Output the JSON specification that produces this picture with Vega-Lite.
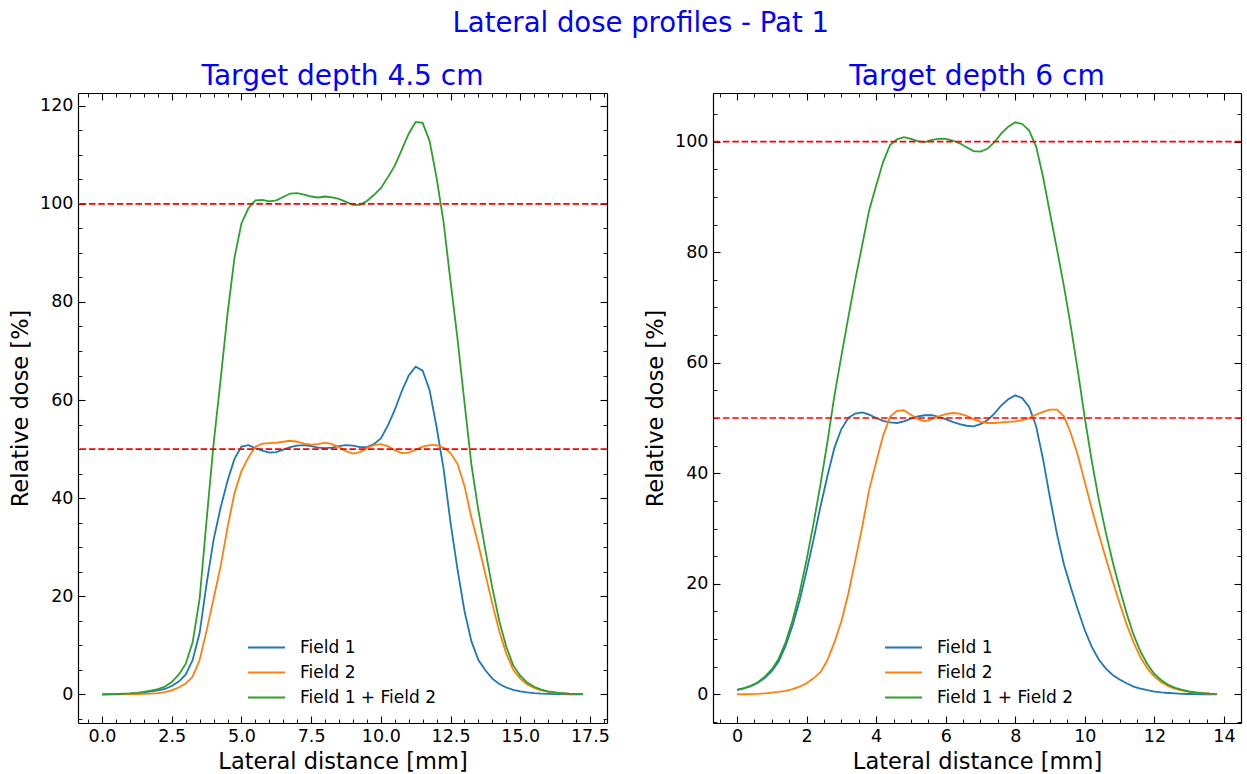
{
  "$schema": "https://vega.github.io/schema/vega-lite/v6.json",
  "background": "white",
  "padding": {"left": 9, "right": 4, "top": 9, "bottom": 4},
  "config": {
    "font": "DejaVu Sans",
    "view": {"stroke": null},
    "axis": {
      "grid": false,
      "domainColor": "#000000",
      "domainWidth": 1.2,
      "tickColor": "#000000",
      "tickWidth": 1.1,
      "labelColor": "#000000",
      "labelFont": "DejaVu Sans",
      "labelFontSize": 17.5,
      "labelFlush": false,
      "labelOverlap": false,
      "titleColor": "#000000",
      "titleFont": "DejaVu Sans",
      "titleFontSize": 22.5,
      "titleFontWeight": "normal",
      "zindex": 1
    }
  },
  "title": {
    "text": "Lateral dose profiles - Pat 1",
    "color": "#0000ff",
    "font": "DejaVu Sans",
    "fontSize": 27.5,
    "fontWeight": "normal",
    "anchor": "middle",
    "baseline": "alphabetic",
    "offset": 4,
    "dx": 15
  },
  "datasets": {
    "depth45": [
      {"x":0.00,"series":"Field 1","dose":0.0},{"x":0.25,"series":"Field 1","dose":0.02},{"x":0.50,"series":"Field 1","dose":0.05},{"x":0.75,"series":"Field 1","dose":0.1},{"x":1.00,"series":"Field 1","dose":0.15},{"x":1.25,"series":"Field 1","dose":0.25},{"x":1.50,"series":"Field 1","dose":0.4},{"x":1.75,"series":"Field 1","dose":0.6},{"x":2.00,"series":"Field 1","dose":0.8},{"x":2.25,"series":"Field 1","dose":1.1},{"x":2.50,"series":"Field 1","dose":1.7},{"x":2.75,"series":"Field 1","dose":2.6},{"x":3.00,"series":"Field 1","dose":4.0},{"x":3.25,"series":"Field 1","dose":7.0},{"x":3.50,"series":"Field 1","dose":12.5},{"x":3.75,"series":"Field 1","dose":22.5},{"x":4.00,"series":"Field 1","dose":31.5},{"x":4.25,"series":"Field 1","dose":38.0},{"x":4.50,"series":"Field 1","dose":43.5},{"x":4.75,"series":"Field 1","dose":48.0},{"x":5.00,"series":"Field 1","dose":50.5},{"x":5.25,"series":"Field 1","dose":50.8},{"x":5.50,"series":"Field 1","dose":50.2},{"x":5.75,"series":"Field 1","dose":49.7},{"x":6.00,"series":"Field 1","dose":49.3},{"x":6.25,"series":"Field 1","dose":49.4},{"x":6.50,"series":"Field 1","dose":49.9},{"x":6.75,"series":"Field 1","dose":50.4},{"x":7.00,"series":"Field 1","dose":50.7},{"x":7.25,"series":"Field 1","dose":50.8},{"x":7.50,"series":"Field 1","dose":50.6},{"x":7.75,"series":"Field 1","dose":50.3},{"x":8.00,"series":"Field 1","dose":50.2},{"x":8.25,"series":"Field 1","dose":50.3},{"x":8.50,"series":"Field 1","dose":50.6},{"x":8.75,"series":"Field 1","dose":50.8},{"x":9.00,"series":"Field 1","dose":50.7},{"x":9.25,"series":"Field 1","dose":50.4},{"x":9.50,"series":"Field 1","dose":50.4},{"x":9.75,"series":"Field 1","dose":51.0},{"x":10.00,"series":"Field 1","dose":52.2},{"x":10.25,"series":"Field 1","dose":54.8},{"x":10.50,"series":"Field 1","dose":58.0},{"x":10.75,"series":"Field 1","dose":61.8},{"x":11.00,"series":"Field 1","dose":65.0},{"x":11.25,"series":"Field 1","dose":66.8},{"x":11.50,"series":"Field 1","dose":66.0},{"x":11.75,"series":"Field 1","dose":62.0},{"x":12.00,"series":"Field 1","dose":54.5},{"x":12.25,"series":"Field 1","dose":46.0},{"x":12.50,"series":"Field 1","dose":35.0},{"x":12.75,"series":"Field 1","dose":25.5},{"x":13.00,"series":"Field 1","dose":17.0},{"x":13.25,"series":"Field 1","dose":10.8},{"x":13.50,"series":"Field 1","dose":7.0},{"x":13.75,"series":"Field 1","dose":4.9},{"x":14.00,"series":"Field 1","dose":3.2},{"x":14.25,"series":"Field 1","dose":2.1},{"x":14.50,"series":"Field 1","dose":1.4},{"x":14.75,"series":"Field 1","dose":0.9},{"x":15.00,"series":"Field 1","dose":0.6},{"x":15.25,"series":"Field 1","dose":0.4},{"x":15.50,"series":"Field 1","dose":0.25},{"x":15.75,"series":"Field 1","dose":0.15},{"x":16.00,"series":"Field 1","dose":0.1},{"x":16.25,"series":"Field 1","dose":0.06},{"x":16.50,"series":"Field 1","dose":0.04},{"x":16.75,"series":"Field 1","dose":0.02},{"x":17.00,"series":"Field 1","dose":0.01},{"x":17.25,"series":"Field 1","dose":0.0},
      {"x":0.00,"series":"Field 2","dose":0.0},{"x":0.25,"series":"Field 2","dose":0.0},{"x":0.50,"series":"Field 2","dose":0.01},{"x":0.75,"series":"Field 2","dose":0.02},{"x":1.00,"series":"Field 2","dose":0.04},{"x":1.25,"series":"Field 2","dose":0.07},{"x":1.50,"series":"Field 2","dose":0.1},{"x":1.75,"series":"Field 2","dose":0.15},{"x":2.00,"series":"Field 2","dose":0.25},{"x":2.25,"series":"Field 2","dose":0.45},{"x":2.50,"series":"Field 2","dose":0.8},{"x":2.75,"series":"Field 2","dose":1.4},{"x":3.00,"series":"Field 2","dose":2.2},{"x":3.25,"series":"Field 2","dose":3.6},{"x":3.50,"series":"Field 2","dose":7.0},{"x":3.75,"series":"Field 2","dose":13.0},{"x":4.00,"series":"Field 2","dose":19.5},{"x":4.25,"series":"Field 2","dose":26.0},{"x":4.50,"series":"Field 2","dose":34.0},{"x":4.75,"series":"Field 2","dose":41.0},{"x":5.00,"series":"Field 2","dose":45.5},{"x":5.25,"series":"Field 2","dose":48.3},{"x":5.50,"series":"Field 2","dose":50.5},{"x":5.75,"series":"Field 2","dose":51.1},{"x":6.00,"series":"Field 2","dose":51.2},{"x":6.25,"series":"Field 2","dose":51.3},{"x":6.50,"series":"Field 2","dose":51.5},{"x":6.75,"series":"Field 2","dose":51.7},{"x":7.00,"series":"Field 2","dose":51.5},{"x":7.25,"series":"Field 2","dose":51.1},{"x":7.50,"series":"Field 2","dose":50.9},{"x":7.75,"series":"Field 2","dose":51.0},{"x":8.00,"series":"Field 2","dose":51.3},{"x":8.25,"series":"Field 2","dose":51.0},{"x":8.50,"series":"Field 2","dose":50.4},{"x":8.75,"series":"Field 2","dose":49.6},{"x":9.00,"series":"Field 2","dose":49.1},{"x":9.25,"series":"Field 2","dose":49.4},{"x":9.50,"series":"Field 2","dose":50.2},{"x":9.75,"series":"Field 2","dose":50.8},{"x":10.00,"series":"Field 2","dose":51.0},{"x":10.25,"series":"Field 2","dose":50.6},{"x":10.50,"series":"Field 2","dose":49.8},{"x":10.75,"series":"Field 2","dose":49.2},{"x":11.00,"series":"Field 2","dose":49.3},{"x":11.25,"series":"Field 2","dose":49.9},{"x":11.50,"series":"Field 2","dose":50.5},{"x":11.75,"series":"Field 2","dose":50.8},{"x":12.00,"series":"Field 2","dose":50.8},{"x":12.25,"series":"Field 2","dose":50.3},{"x":12.50,"series":"Field 2","dose":49.2},{"x":12.75,"series":"Field 2","dose":47.0},{"x":13.00,"series":"Field 2","dose":42.5},{"x":13.25,"series":"Field 2","dose":36.0},{"x":13.50,"series":"Field 2","dose":30.5},{"x":13.75,"series":"Field 2","dose":24.5},{"x":14.00,"series":"Field 2","dose":18.5},{"x":14.25,"series":"Field 2","dose":12.8},{"x":14.50,"series":"Field 2","dose":8.3},{"x":14.75,"series":"Field 2","dose":5.0},{"x":15.00,"series":"Field 2","dose":3.2},{"x":15.25,"series":"Field 2","dose":2.0},{"x":15.50,"series":"Field 2","dose":1.3},{"x":15.75,"series":"Field 2","dose":0.8},{"x":16.00,"series":"Field 2","dose":0.5},{"x":16.25,"series":"Field 2","dose":0.35},{"x":16.50,"series":"Field 2","dose":0.22},{"x":16.75,"series":"Field 2","dose":0.12},{"x":17.00,"series":"Field 2","dose":0.06},{"x":17.25,"series":"Field 2","dose":0.03},
      {"x":0.00,"series":"Field 1 + Field 2","dose":0.0},{"x":0.25,"series":"Field 1 + Field 2","dose":0.03},{"x":0.50,"series":"Field 1 + Field 2","dose":0.06},{"x":0.75,"series":"Field 1 + Field 2","dose":0.12},{"x":1.00,"series":"Field 1 + Field 2","dose":0.2},{"x":1.25,"series":"Field 1 + Field 2","dose":0.32},{"x":1.50,"series":"Field 1 + Field 2","dose":0.5},{"x":1.75,"series":"Field 1 + Field 2","dose":0.75},{"x":2.00,"series":"Field 1 + Field 2","dose":1.05},{"x":2.25,"series":"Field 1 + Field 2","dose":1.55},{"x":2.50,"series":"Field 1 + Field 2","dose":2.5},{"x":2.75,"series":"Field 1 + Field 2","dose":4.0},{"x":3.00,"series":"Field 1 + Field 2","dose":6.2},{"x":3.25,"series":"Field 1 + Field 2","dose":10.6},{"x":3.50,"series":"Field 1 + Field 2","dose":19.5},{"x":3.75,"series":"Field 1 + Field 2","dose":35.5},{"x":4.00,"series":"Field 1 + Field 2","dose":51.0},{"x":4.25,"series":"Field 1 + Field 2","dose":64.0},{"x":4.50,"series":"Field 1 + Field 2","dose":77.5},{"x":4.75,"series":"Field 1 + Field 2","dose":89.0},{"x":5.00,"series":"Field 1 + Field 2","dose":96.0},{"x":5.25,"series":"Field 1 + Field 2","dose":99.1},{"x":5.50,"series":"Field 1 + Field 2","dose":100.7},{"x":5.75,"series":"Field 1 + Field 2","dose":100.8},{"x":6.00,"series":"Field 1 + Field 2","dose":100.5},{"x":6.25,"series":"Field 1 + Field 2","dose":100.7},{"x":6.50,"series":"Field 1 + Field 2","dose":101.4},{"x":6.75,"series":"Field 1 + Field 2","dose":102.1},{"x":7.00,"series":"Field 1 + Field 2","dose":102.2},{"x":7.25,"series":"Field 1 + Field 2","dose":101.9},{"x":7.50,"series":"Field 1 + Field 2","dose":101.5},{"x":7.75,"series":"Field 1 + Field 2","dose":101.3},{"x":8.00,"series":"Field 1 + Field 2","dose":101.5},{"x":8.25,"series":"Field 1 + Field 2","dose":101.3},{"x":8.50,"series":"Field 1 + Field 2","dose":101.0},{"x":8.75,"series":"Field 1 + Field 2","dose":100.4},{"x":9.00,"series":"Field 1 + Field 2","dose":99.8},{"x":9.25,"series":"Field 1 + Field 2","dose":99.8},{"x":9.50,"series":"Field 1 + Field 2","dose":100.6},{"x":9.75,"series":"Field 1 + Field 2","dose":101.8},{"x":10.00,"series":"Field 1 + Field 2","dose":103.2},{"x":10.25,"series":"Field 1 + Field 2","dose":105.4},{"x":10.50,"series":"Field 1 + Field 2","dose":107.8},{"x":10.75,"series":"Field 1 + Field 2","dose":111.0},{"x":11.00,"series":"Field 1 + Field 2","dose":114.3},{"x":11.25,"series":"Field 1 + Field 2","dose":116.7},{"x":11.50,"series":"Field 1 + Field 2","dose":116.5},{"x":11.75,"series":"Field 1 + Field 2","dose":112.8},{"x":12.00,"series":"Field 1 + Field 2","dose":105.3},{"x":12.25,"series":"Field 1 + Field 2","dose":96.3},{"x":12.50,"series":"Field 1 + Field 2","dose":84.2},{"x":12.75,"series":"Field 1 + Field 2","dose":72.5},{"x":13.00,"series":"Field 1 + Field 2","dose":59.5},{"x":13.25,"series":"Field 1 + Field 2","dose":46.8},{"x":13.50,"series":"Field 1 + Field 2","dose":37.5},{"x":13.75,"series":"Field 1 + Field 2","dose":29.4},{"x":14.00,"series":"Field 1 + Field 2","dose":21.7},{"x":14.25,"series":"Field 1 + Field 2","dose":14.9},{"x":14.50,"series":"Field 1 + Field 2","dose":9.7},{"x":14.75,"series":"Field 1 + Field 2","dose":5.9},{"x":15.00,"series":"Field 1 + Field 2","dose":3.8},{"x":15.25,"series":"Field 1 + Field 2","dose":2.4},{"x":15.50,"series":"Field 1 + Field 2","dose":1.55},{"x":15.75,"series":"Field 1 + Field 2","dose":0.95},{"x":16.00,"series":"Field 1 + Field 2","dose":0.6},{"x":16.25,"series":"Field 1 + Field 2","dose":0.41},{"x":16.50,"series":"Field 1 + Field 2","dose":0.26},{"x":16.75,"series":"Field 1 + Field 2","dose":0.14},{"x":17.00,"series":"Field 1 + Field 2","dose":0.07},{"x":17.25,"series":"Field 1 + Field 2","dose":0.03}
    ],
    "depth6": [
      {"x":0.0,"series":"Field 1","dose":0.8},{"x":0.2,"series":"Field 1","dose":1.1},{"x":0.4,"series":"Field 1","dose":1.5},{"x":0.6,"series":"Field 1","dose":2.1},{"x":0.8,"series":"Field 1","dose":3.0},{"x":1.0,"series":"Field 1","dose":4.2},{"x":1.2,"series":"Field 1","dose":6.0},{"x":1.4,"series":"Field 1","dose":8.8},{"x":1.6,"series":"Field 1","dose":12.5},{"x":1.8,"series":"Field 1","dose":17.0},{"x":2.0,"series":"Field 1","dose":22.3},{"x":2.2,"series":"Field 1","dose":28.0},{"x":2.4,"series":"Field 1","dose":34.0},{"x":2.6,"series":"Field 1","dose":39.5},{"x":2.8,"series":"Field 1","dose":44.6},{"x":3.0,"series":"Field 1","dose":48.0},{"x":3.2,"series":"Field 1","dose":50.0},{"x":3.4,"series":"Field 1","dose":50.8},{"x":3.6,"series":"Field 1","dose":51.0},{"x":3.8,"series":"Field 1","dose":50.6},{"x":4.0,"series":"Field 1","dose":50.0},{"x":4.2,"series":"Field 1","dose":49.5},{"x":4.4,"series":"Field 1","dose":49.2},{"x":4.6,"series":"Field 1","dose":49.1},{"x":4.8,"series":"Field 1","dose":49.4},{"x":5.0,"series":"Field 1","dose":49.9},{"x":5.2,"series":"Field 1","dose":50.3},{"x":5.4,"series":"Field 1","dose":50.5},{"x":5.6,"series":"Field 1","dose":50.5},{"x":5.8,"series":"Field 1","dose":50.2},{"x":6.0,"series":"Field 1","dose":49.8},{"x":6.2,"series":"Field 1","dose":49.3},{"x":6.4,"series":"Field 1","dose":48.9},{"x":6.6,"series":"Field 1","dose":48.6},{"x":6.8,"series":"Field 1","dose":48.5},{"x":7.0,"series":"Field 1","dose":48.9},{"x":7.2,"series":"Field 1","dose":49.6},{"x":7.4,"series":"Field 1","dose":50.8},{"x":7.6,"series":"Field 1","dose":52.3},{"x":7.8,"series":"Field 1","dose":53.4},{"x":8.0,"series":"Field 1","dose":54.1},{"x":8.2,"series":"Field 1","dose":53.6},{"x":8.4,"series":"Field 1","dose":52.0},{"x":8.6,"series":"Field 1","dose":48.5},{"x":8.8,"series":"Field 1","dose":42.5},{"x":9.0,"series":"Field 1","dose":35.5},{"x":9.2,"series":"Field 1","dose":29.0},{"x":9.4,"series":"Field 1","dose":23.5},{"x":9.6,"series":"Field 1","dose":19.3},{"x":9.8,"series":"Field 1","dose":15.3},{"x":10.0,"series":"Field 1","dose":11.6},{"x":10.2,"series":"Field 1","dose":8.6},{"x":10.4,"series":"Field 1","dose":6.3},{"x":10.6,"series":"Field 1","dose":4.7},{"x":10.8,"series":"Field 1","dose":3.5},{"x":11.0,"series":"Field 1","dose":2.7},{"x":11.2,"series":"Field 1","dose":2.0},{"x":11.4,"series":"Field 1","dose":1.4},{"x":11.6,"series":"Field 1","dose":1.05},{"x":11.8,"series":"Field 1","dose":0.75},{"x":12.0,"series":"Field 1","dose":0.5},{"x":12.2,"series":"Field 1","dose":0.35},{"x":12.4,"series":"Field 1","dose":0.25},{"x":12.6,"series":"Field 1","dose":0.17},{"x":12.8,"series":"Field 1","dose":0.1},{"x":13.0,"series":"Field 1","dose":0.07},{"x":13.2,"series":"Field 1","dose":0.04},{"x":13.4,"series":"Field 1","dose":0.02},{"x":13.6,"series":"Field 1","dose":0.01},{"x":13.8,"series":"Field 1","dose":0.0},
      {"x":0.0,"series":"Field 2","dose":0.0},{"x":0.2,"series":"Field 2","dose":0.02},{"x":0.4,"series":"Field 2","dose":0.05},{"x":0.6,"series":"Field 2","dose":0.1},{"x":0.8,"series":"Field 2","dose":0.18},{"x":1.0,"series":"Field 2","dose":0.3},{"x":1.2,"series":"Field 2","dose":0.45},{"x":1.4,"series":"Field 2","dose":0.65},{"x":1.6,"series":"Field 2","dose":0.95},{"x":1.8,"series":"Field 2","dose":1.4},{"x":2.0,"series":"Field 2","dose":2.0},{"x":2.2,"series":"Field 2","dose":2.9},{"x":2.4,"series":"Field 2","dose":4.0},{"x":2.6,"series":"Field 2","dose":6.2},{"x":2.8,"series":"Field 2","dose":9.4},{"x":3.0,"series":"Field 2","dose":13.2},{"x":3.2,"series":"Field 2","dose":18.2},{"x":3.4,"series":"Field 2","dose":24.2},{"x":3.6,"series":"Field 2","dose":30.3},{"x":3.8,"series":"Field 2","dose":37.0},{"x":4.0,"series":"Field 2","dose":42.0},{"x":4.2,"series":"Field 2","dose":46.8},{"x":4.4,"series":"Field 2","dose":50.2},{"x":4.6,"series":"Field 2","dose":51.3},{"x":4.8,"series":"Field 2","dose":51.4},{"x":5.0,"series":"Field 2","dose":50.6},{"x":5.2,"series":"Field 2","dose":49.8},{"x":5.4,"series":"Field 2","dose":49.4},{"x":5.6,"series":"Field 2","dose":49.8},{"x":5.8,"series":"Field 2","dose":50.3},{"x":6.0,"series":"Field 2","dose":50.7},{"x":6.2,"series":"Field 2","dose":50.9},{"x":6.4,"series":"Field 2","dose":50.8},{"x":6.6,"series":"Field 2","dose":50.4},{"x":6.8,"series":"Field 2","dose":49.8},{"x":7.0,"series":"Field 2","dose":49.3},{"x":7.2,"series":"Field 2","dose":49.1},{"x":7.4,"series":"Field 2","dose":49.1},{"x":7.6,"series":"Field 2","dose":49.2},{"x":7.8,"series":"Field 2","dose":49.3},{"x":8.0,"series":"Field 2","dose":49.4},{"x":8.2,"series":"Field 2","dose":49.6},{"x":8.4,"series":"Field 2","dose":50.0},{"x":8.6,"series":"Field 2","dose":50.6},{"x":8.8,"series":"Field 2","dose":51.1},{"x":9.0,"series":"Field 2","dose":51.5},{"x":9.2,"series":"Field 2","dose":51.5},{"x":9.4,"series":"Field 2","dose":50.3},{"x":9.6,"series":"Field 2","dose":47.2},{"x":9.8,"series":"Field 2","dose":43.2},{"x":10.0,"series":"Field 2","dose":38.4},{"x":10.2,"series":"Field 2","dose":33.6},{"x":10.4,"series":"Field 2","dose":29.0},{"x":10.6,"series":"Field 2","dose":24.7},{"x":10.8,"series":"Field 2","dose":20.5},{"x":11.0,"series":"Field 2","dose":16.5},{"x":11.2,"series":"Field 2","dose":12.7},{"x":11.4,"series":"Field 2","dose":9.4},{"x":11.6,"series":"Field 2","dose":6.7},{"x":11.8,"series":"Field 2","dose":4.7},{"x":12.0,"series":"Field 2","dose":3.2},{"x":12.2,"series":"Field 2","dose":2.2},{"x":12.4,"series":"Field 2","dose":1.5},{"x":12.6,"series":"Field 2","dose":1.0},{"x":12.8,"series":"Field 2","dose":0.7},{"x":13.0,"series":"Field 2","dose":0.45},{"x":13.2,"series":"Field 2","dose":0.3},{"x":13.4,"series":"Field 2","dose":0.2},{"x":13.6,"series":"Field 2","dose":0.12},{"x":13.8,"series":"Field 2","dose":0.08},
      {"x":0.0,"series":"Field 1 + Field 2","dose":0.8},{"x":0.2,"series":"Field 1 + Field 2","dose":1.12},{"x":0.4,"series":"Field 1 + Field 2","dose":1.55},{"x":0.6,"series":"Field 1 + Field 2","dose":2.2},{"x":0.8,"series":"Field 1 + Field 2","dose":3.2},{"x":1.0,"series":"Field 1 + Field 2","dose":4.5},{"x":1.2,"series":"Field 1 + Field 2","dose":6.45},{"x":1.4,"series":"Field 1 + Field 2","dose":9.45},{"x":1.6,"series":"Field 1 + Field 2","dose":13.45},{"x":1.8,"series":"Field 1 + Field 2","dose":18.4},{"x":2.0,"series":"Field 1 + Field 2","dose":24.3},{"x":2.2,"series":"Field 1 + Field 2","dose":30.9},{"x":2.4,"series":"Field 1 + Field 2","dose":38.0},{"x":2.6,"series":"Field 1 + Field 2","dose":45.7},{"x":2.8,"series":"Field 1 + Field 2","dose":54.0},{"x":3.0,"series":"Field 1 + Field 2","dose":61.2},{"x":3.2,"series":"Field 1 + Field 2","dose":68.2},{"x":3.4,"series":"Field 1 + Field 2","dose":75.0},{"x":3.6,"series":"Field 1 + Field 2","dose":81.3},{"x":3.8,"series":"Field 1 + Field 2","dose":87.6},{"x":4.0,"series":"Field 1 + Field 2","dose":92.0},{"x":4.2,"series":"Field 1 + Field 2","dose":96.3},{"x":4.4,"series":"Field 1 + Field 2","dose":99.4},{"x":4.6,"series":"Field 1 + Field 2","dose":100.4},{"x":4.8,"series":"Field 1 + Field 2","dose":100.8},{"x":5.0,"series":"Field 1 + Field 2","dose":100.5},{"x":5.2,"series":"Field 1 + Field 2","dose":100.1},{"x":5.4,"series":"Field 1 + Field 2","dose":99.9},{"x":5.6,"series":"Field 1 + Field 2","dose":100.3},{"x":5.8,"series":"Field 1 + Field 2","dose":100.5},{"x":6.0,"series":"Field 1 + Field 2","dose":100.5},{"x":6.2,"series":"Field 1 + Field 2","dose":100.2},{"x":6.4,"series":"Field 1 + Field 2","dose":99.7},{"x":6.6,"series":"Field 1 + Field 2","dose":99.0},{"x":6.8,"series":"Field 1 + Field 2","dose":98.3},{"x":7.0,"series":"Field 1 + Field 2","dose":98.2},{"x":7.2,"series":"Field 1 + Field 2","dose":98.7},{"x":7.4,"series":"Field 1 + Field 2","dose":99.9},{"x":7.6,"series":"Field 1 + Field 2","dose":101.5},{"x":7.8,"series":"Field 1 + Field 2","dose":102.7},{"x":8.0,"series":"Field 1 + Field 2","dose":103.5},{"x":8.2,"series":"Field 1 + Field 2","dose":103.2},{"x":8.4,"series":"Field 1 + Field 2","dose":102.0},{"x":8.6,"series":"Field 1 + Field 2","dose":99.1},{"x":8.8,"series":"Field 1 + Field 2","dose":93.6},{"x":9.0,"series":"Field 1 + Field 2","dose":87.0},{"x":9.2,"series":"Field 1 + Field 2","dose":80.5},{"x":9.4,"series":"Field 1 + Field 2","dose":73.8},{"x":9.6,"series":"Field 1 + Field 2","dose":66.5},{"x":9.8,"series":"Field 1 + Field 2","dose":58.5},{"x":10.0,"series":"Field 1 + Field 2","dose":50.0},{"x":10.2,"series":"Field 1 + Field 2","dose":42.2},{"x":10.4,"series":"Field 1 + Field 2","dose":35.3},{"x":10.6,"series":"Field 1 + Field 2","dose":29.4},{"x":10.8,"series":"Field 1 + Field 2","dose":24.0},{"x":11.0,"series":"Field 1 + Field 2","dose":19.2},{"x":11.2,"series":"Field 1 + Field 2","dose":14.7},{"x":11.4,"series":"Field 1 + Field 2","dose":10.8},{"x":11.6,"series":"Field 1 + Field 2","dose":7.75},{"x":11.8,"series":"Field 1 + Field 2","dose":5.45},{"x":12.0,"series":"Field 1 + Field 2","dose":3.7},{"x":12.2,"series":"Field 1 + Field 2","dose":2.55},{"x":12.4,"series":"Field 1 + Field 2","dose":1.75},{"x":12.6,"series":"Field 1 + Field 2","dose":1.17},{"x":12.8,"series":"Field 1 + Field 2","dose":0.8},{"x":13.0,"series":"Field 1 + Field 2","dose":0.52},{"x":13.2,"series":"Field 1 + Field 2","dose":0.34},{"x":13.4,"series":"Field 1 + Field 2","dose":0.22},{"x":13.6,"series":"Field 1 + Field 2","dose":0.13},{"x":13.8,"series":"Field 1 + Field 2","dose":0.08}
    ],
    "levels": [{"level": 100}, {"level": 50}]
  },
  "spacing": 106,
  "bounds": "flush",
  "resolve": {"scale": {"color": "independent"}, "legend": {"color": "independent"}},
  "hconcat": [
    {
      "width": 529,
      "height": 630,
      "title": {"text": "Target depth 4.5 cm", "color": "#0000ff", "font": "DejaVu Sans", "fontSize": 28, "fontWeight": "normal", "anchor": "middle", "frame": "group", "baseline": "alphabetic", "offset": -21},
      "resolve": {"axis": {"x": "independent", "y": "independent"}},
      "layer": [
        {
          "data": {"name": "depth45"},
          "mark": {"type": "line", "strokeWidth": 1.8},
          "encoding": {
            "x": {"field": "x", "type": "quantitative",
              "scale": {"domain": [-0.8625, 18.1125], "nice": false, "zero": false},
              "axis": {"orient": "bottom", "values": [0, 2.5, 5, 7.5, 10, 12.5, 15, 17.5], "format": ".1f", "tickSize": -7, "labelPadding": 11, "title": "Lateral distance [mm]", "titlePadding": 6}},
            "y": {"field": "dose", "type": "quantitative",
              "scale": {"domain": [-5.84, 122.6], "nice": false, "zero": false},
              "axis": {"orient": "left", "values": [0, 20, 40, 60, 80, 100, 120], "format": "d", "tickSize": -7, "labelPadding": 12, "title": "Relative dose [%]", "titlePadding": 7}},
            "color": {"field": "series", "type": "nominal",
              "scale": {"domain": ["Field 1", "Field 2", "Field 1 + Field 2"], "range": ["#1f77b4", "#ff7f0e", "#2ca02c"]},
              "legend": {"orient": "none", "legendX": 169, "legendY": 542, "title": null, "padding": 0, "symbolType": "stroke", "symbolSize": 1369, "symbolStrokeWidth": 1.8, "clipHeight": 25, "rowPadding": 0, "labelOffset": 14, "labelFont": "DejaVu Sans", "labelFontSize": 17, "labelColor": "#000000", "labelLimit": 300}}
          }
        },
        {
          "data": {"name": "depth45"},
          "mark": {"type": "point", "opacity": 0},
          "encoding": {
            "x": {"field": "x", "type": "quantitative", "axis": {"orient": "top", "values": [0, 2.5, 5, 7.5, 10, 12.5, 15, 17.5], "tickSize": -7, "labels": false, "title": null}},
            "y": {"field": "dose", "type": "quantitative", "axis": {"orient": "right", "values": [0, 20, 40, 60, 80, 100, 120], "tickSize": -7, "labels": false, "title": null}}
          }
        },
        {
          "data": {"name": "depth45"},
          "mark": {"type": "point", "opacity": 0},
          "encoding": {
            "x": {"field": "x", "type": "quantitative", "axis": {"orient": "bottom", "values": [-0.5, 0.5, 1, 1.5, 2, 3, 3.5, 4, 4.5, 5.5, 6, 6.5, 7, 8, 8.5, 9, 9.5, 10.5, 11, 11.5, 12, 13, 13.5, 14, 14.5, 15.5, 16, 16.5, 17, 18], "tickSize": -4, "tickWidth": 0.9, "labels": false, "domain": false, "title": null}},
            "y": {"field": "dose", "type": "quantitative", "axis": {"orient": "left", "values": [-5, 5, 10, 15, 25, 30, 35, 45, 50, 55, 65, 70, 75, 85, 90, 95, 105, 110, 115], "tickSize": -4, "tickWidth": 0.9, "labels": false, "domain": false, "title": null}}
          }
        },
        {
          "data": {"name": "depth45"},
          "mark": {"type": "point", "opacity": 0},
          "encoding": {
            "x": {"field": "x", "type": "quantitative", "axis": {"orient": "top", "values": [-0.5, 0.5, 1, 1.5, 2, 3, 3.5, 4, 4.5, 5.5, 6, 6.5, 7, 8, 8.5, 9, 9.5, 10.5, 11, 11.5, 12, 13, 13.5, 14, 14.5, 15.5, 16, 16.5, 17, 18], "tickSize": -4, "tickWidth": 0.9, "labels": false, "domain": false, "title": null}},
            "y": {"field": "dose", "type": "quantitative", "axis": {"orient": "right", "values": [-5, 5, 10, 15, 25, 30, 35, 45, 50, 55, 65, 70, 75, 85, 90, 95, 105, 110, 115], "tickSize": -4, "tickWidth": 0.9, "labels": false, "domain": false, "title": null}}
          }
        },
        {
          "data": {"name": "levels"},
          "mark": {"type": "rule", "color": "#ff0000", "strokeWidth": 1.7, "strokeDash": [6.5, 2.8]},
          "encoding": {
            "y": {"field": "level", "type": "quantitative", "axis": null}
          }
        }
      ]
    },
    {
      "width": 528,
      "height": 630,
      "title": {"text": "Target depth 6 cm", "color": "#0000ff", "font": "DejaVu Sans", "fontSize": 28, "fontWeight": "normal", "anchor": "middle", "frame": "group", "baseline": "alphabetic", "offset": -21},
      "resolve": {"axis": {"x": "independent", "y": "independent"}},
      "layer": [
        {
          "data": {"name": "depth6"},
          "mark": {"type": "line", "strokeWidth": 1.8},
          "encoding": {
            "x": {"field": "x", "type": "quantitative",
              "scale": {"domain": [-0.69, 14.49], "nice": false, "zero": false},
              "axis": {"orient": "bottom", "values": [0, 2, 4, 6, 8, 10, 12, 14], "format": "d", "tickSize": -7, "labelPadding": 11, "title": "Lateral distance [mm]", "titlePadding": 6}},
            "y": {"field": "dose", "type": "quantitative",
              "scale": {"domain": [-5.18, 108.8], "nice": false, "zero": false},
              "axis": {"orient": "left", "values": [0, 20, 40, 60, 80, 100], "format": "d", "tickSize": -7, "labelPadding": 12, "title": "Relative dose [%]", "titlePadding": 7}},
            "color": {"field": "series", "type": "nominal",
              "scale": {"domain": ["Field 1", "Field 2", "Field 1 + Field 2"], "range": ["#1f77b4", "#ff7f0e", "#2ca02c"]},
              "legend": {"orient": "none", "legendX": 171, "legendY": 542, "title": null, "padding": 0, "symbolType": "stroke", "symbolSize": 1369, "symbolStrokeWidth": 1.8, "clipHeight": 25, "rowPadding": 0, "labelOffset": 14, "labelFont": "DejaVu Sans", "labelFontSize": 17, "labelColor": "#000000", "labelLimit": 300}}
          }
        },
        {
          "data": {"name": "depth6"},
          "mark": {"type": "point", "opacity": 0},
          "encoding": {
            "x": {"field": "x", "type": "quantitative", "axis": {"orient": "top", "values": [0, 2, 4, 6, 8, 10, 12, 14], "tickSize": -7, "labels": false, "title": null}},
            "y": {"field": "dose", "type": "quantitative", "axis": {"orient": "right", "values": [0, 20, 40, 60, 80, 100], "tickSize": -7, "labels": false, "title": null}}
          }
        },
        {
          "data": {"name": "depth6"},
          "mark": {"type": "point", "opacity": 0},
          "encoding": {
            "x": {"field": "x", "type": "quantitative", "axis": {"orient": "bottom", "values": [-0.5, 0.5, 1, 1.5, 2.5, 3, 3.5, 4.5, 5, 5.5, 6.5, 7, 7.5, 8.5, 9, 9.5, 10.5, 11, 11.5, 12.5, 13, 13.5], "tickSize": -4, "tickWidth": 0.9, "labels": false, "domain": false, "title": null}},
            "y": {"field": "dose", "type": "quantitative", "axis": {"orient": "left", "values": [-5, 5, 10, 15, 25, 30, 35, 45, 50, 55, 65, 70, 75, 85, 90, 95, 105], "tickSize": -4, "tickWidth": 0.9, "labels": false, "domain": false, "title": null}}
          }
        },
        {
          "data": {"name": "depth6"},
          "mark": {"type": "point", "opacity": 0},
          "encoding": {
            "x": {"field": "x", "type": "quantitative", "axis": {"orient": "top", "values": [-0.5, 0.5, 1, 1.5, 2.5, 3, 3.5, 4.5, 5, 5.5, 6.5, 7, 7.5, 8.5, 9, 9.5, 10.5, 11, 11.5, 12.5, 13, 13.5], "tickSize": -4, "tickWidth": 0.9, "labels": false, "domain": false, "title": null}},
            "y": {"field": "dose", "type": "quantitative", "axis": {"orient": "right", "values": [-5, 5, 10, 15, 25, 30, 35, 45, 50, 55, 65, 70, 75, 85, 90, 95, 105], "tickSize": -4, "tickWidth": 0.9, "labels": false, "domain": false, "title": null}}
          }
        },
        {
          "data": {"name": "levels"},
          "mark": {"type": "rule", "color": "#ff0000", "strokeWidth": 1.7, "strokeDash": [6.5, 2.8]},
          "encoding": {
            "y": {"field": "level", "type": "quantitative", "axis": null}
          }
        }
      ]
    }
  ]
}
